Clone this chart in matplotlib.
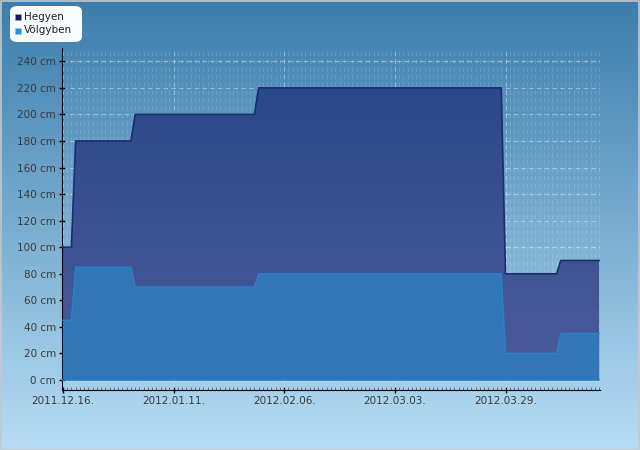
import numpy as np
import matplotlib
matplotlib.use("Agg")
import matplotlib.pyplot as plt
import matplotlib.dates as mdates
from matplotlib.patches import FancyBboxPatch, Rectangle
from matplotlib.colors import LinearSegmentedColormap
import datetime as dt

# breakpoints of the two series (daily data, linear between days)
dates = ["2011-12-16", "2011-12-18", "2011-12-19", "2012-01-01", "2012-01-02",
         "2012-01-30", "2012-01-31", "2012-03-28", "2012-03-29", "2012-04-10",
         "2012-04-11", "2012-04-20"]
hegyen = [100, 100, 180, 180, 200, 200, 220, 220, 80, 80, 90, 90]
volgyben = [45, 45, 85, 85, 70, 70, 80, 80, 20, 20, 35, 35]
tick_dates = ["2011-12-16", "2012-01-11", "2012-02-06", "2012-03-03", "2012-03-29"]
y_ticks = list(range(0, 241, 20))

x = [dt.datetime.strptime(d, "%Y-%m-%d") for d in dates]
xt = [dt.datetime.strptime(d, "%Y-%m-%d") for d in tick_dates]

fig = plt.figure(figsize=(6.4, 4.5), dpi=100)

# background gradient
bg = fig.add_axes([0, 0, 1, 1])
bgmap = LinearSegmentedColormap.from_list("bg", ["#3b7dac", "#b7ddf4"])
bg.imshow(np.linspace(0, 1, 256).reshape(-1, 1), aspect="auto", cmap=bgmap,
          extent=[0, 1, 0, 1], origin="upper")
bg.add_patch(Rectangle((0.001, 0.001), 0.997, 0.996, transform=bg.transAxes,
                       fill=False, edgecolor="#c4c8cc", lw=1.2))
bg.set_xlim(0, 1)
bg.set_ylim(0, 1)
bg.axis("off")

ax = fig.add_axes([62 / 640, 60 / 450, 538 / 640, 342 / 450])
ax.patch.set_alpha(0)

# gradient fill for Hegyen
poly = ax.fill_between(x, 0, hegyen, facecolor="none", edgecolor="none")
hmap = LinearSegmentedColormap.from_list("h", ["#4d5c9c", "#2b4888"])
xn = mdates.date2num(x)
img = ax.imshow(np.linspace(0, 1, 256).reshape(-1, 1), aspect="auto", cmap=hmap,
                extent=[xn[0], xn[-1], 0, 220], origin="lower", zorder=2)
img.set_clip_path(poly.get_paths()[0], transform=ax.transData)
ax.plot(x, hegyen, color="#1c2c70", lw=1.2, zorder=3)

ax.fill_between(x, 0, volgyben, facecolor="#3177b7", edgecolor="none", zorder=4)
ax.plot(x, volgyben, color="#2a82cc", lw=1.0, zorder=5)
ax.plot([x[0], x[-1]], [0, 0], color="#1f80d4", lw=1.2, zorder=5)

ax.set_xlim(mdates.date2num(x[0]) - 0.2, mdates.date2num(x[-1]) + 0.2)
ax.set_ylim(-7.5, 250)

ax.set_xticks(xt)
ax.xaxis.set_major_formatter(mdates.DateFormatter("%Y.%m.%d."))
ax.xaxis.set_minor_locator(mdates.DayLocator())
ax.set_yticks(y_ticks)
ax.set_yticklabels([f"{v} cm" for v in y_ticks])

ax.grid(True, which="major", color="white", alpha=0.4, ls=(0, (4, 3)), lw=0.8, zorder=6)
ax.grid(True, which="minor", axis="x", color="white", alpha=0.15, ls=(0, (4, 3)), lw=0.8, zorder=6)

for s in ["top", "right"]:
    ax.spines[s].set_visible(False)
ax.spines["left"].set_color("black")
ax.spines["bottom"].set_color("black")
ax.tick_params(axis="both", which="major", direction="inout", length=5, width=1,
               labelsize=7.5, labelcolor="#3a3a3a", color="black")
ax.tick_params(axis="x", which="minor", direction="in", length=2, width=0.6, color="#555555")
ax.tick_params(axis="y", pad=2)
ax.tick_params(axis="x", pad=2)

# legend
lg = FancyBboxPatch((10 / 640, 1 - 42 / 450), 72 / 640, 36 / 450,
                    boxstyle="round,pad=0,rounding_size=0.012",
                    transform=fig.transFigure, facecolor="#f8fcff", edgecolor="none")
fig.patches.append(lg)
fig.patches.append(Rectangle((15 / 640, 1 - 20 / 450), 5.5 / 640, 5.5 / 450,
                             transform=fig.transFigure, facecolor="#161a66",
                             edgecolor="#9aa0c0", lw=0.4))
fig.patches.append(Rectangle((15 / 640, 1 - 34 / 450), 5.5 / 640, 5.5 / 450,
                             transform=fig.transFigure, facecolor="#1e90e0",
                             edgecolor="#9ac8ee", lw=0.4))
fig.text(24 / 640, 1 - 16.5 / 450, "Hegyen", color="#222222", fontsize=7.5, va="center")
fig.text(24 / 640, 1 - 30 / 450, "Völgyben", color="#222222", fontsize=7.5, va="center")

fig.savefig("out.png", dpi=100)
